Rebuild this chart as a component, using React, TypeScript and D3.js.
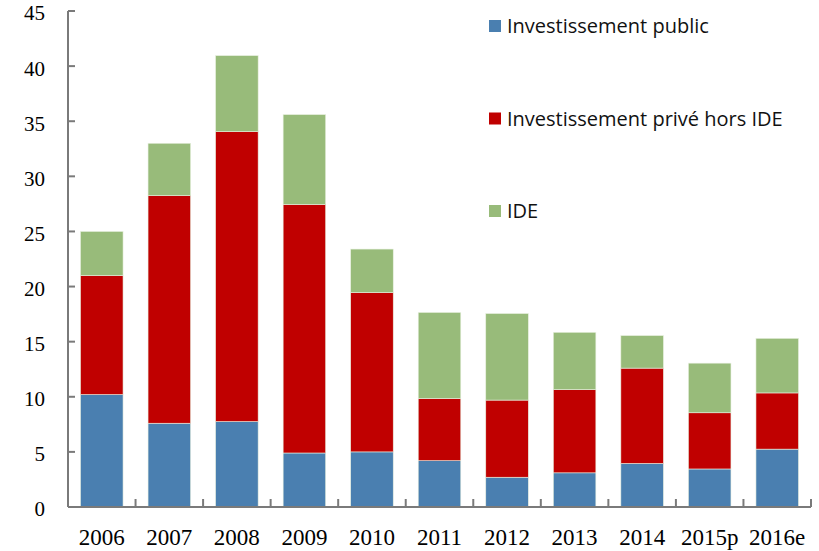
import React, { useEffect, useRef } from 'react';
import * as d3 from 'd3';

const years = ['2006', '2007', '2008', '2009', '2010', '2011', '2012', '2013', '2014', '2015p', '2016e'];
const publicInv = [10.2, 7.6, 7.75, 4.9, 5.0, 4.2, 2.7, 3.1, 3.95, 3.45, 5.25];
const privateInv = [10.8, 20.65, 26.3, 22.55, 14.45, 5.65, 7.0, 7.55, 8.65, 5.1, 5.1];
const ide = [4.0, 4.75, 6.9, 8.15, 3.95, 7.8, 7.85, 5.2, 2.95, 4.5, 4.95];
const seriesNames = ['Investissement public', 'Investissement privé hors IDE', 'IDE'];
const colors = ['#4a7fb0', '#c00000', '#98bb7a'];
const yTicks = [0, 5, 10, 15, 20, 25, 30, 35, 40, 45];

const W = 819;
const H = 551;
const margin = { left: 68, right: 8, top: 11, bottom: 44 };

export default function App() {
  const ref = useRef<SVGSVGElement>(null);

  useEffect(() => {
    if (!ref.current) return;
    const svg = d3.select(ref.current);
    svg.selectAll('*').remove();

    const x = d3
      .scaleBand()
      .domain(years)
      .range([margin.left, W - margin.right])
      .paddingInner(0.37)
      .paddingOuter(0.185);

    const y = d3.scaleLinear().domain([0, 45]).range([H - margin.bottom, margin.top]);

    const rows = years.map((yr, i) => ({
      year: yr,
      public: publicInv[i],
      private: privateInv[i],
      ide: ide[i],
    }));
    const stacked = d3.stack<any>().keys(['public', 'private', 'ide'])(rows);

    // bars
    svg
      .append('g')
      .selectAll('g')
      .data(stacked)
      .enter()
      .append('g')
      .attr('fill', (_, i) => colors[i])
      .selectAll('rect')
      .data((d) => d)
      .enter()
      .append('rect')
      .attr('x', (d) => x(d.data.year)!)
      .attr('y', (d) => y(d[1]))
      .attr('width', x.bandwidth())
      .attr('height', (d) => y(d[0]) - y(d[1]))
      .attr('stroke', '#e8f0e0')
      .attr('stroke-width', 0.6);

    const axisColor = '#7a7a7a';
    const x0 = margin.left;
    const x1 = W - margin.right;
    const y0 = y(0);

    // y axis
    svg.append('line').attr('x1', x0).attr('x2', x0).attr('y1', y(45)).attr('y2', y0)
      .attr('stroke', axisColor).attr('stroke-width', 2);
    svg
      .append('g')
      .selectAll('line')
      .data(yTicks)
      .enter()
      .append('line')
      .attr('x1', x0)
      .attr('x2', x0 + 7)
      .attr('y1', (d) => y(d))
      .attr('y2', (d) => y(d))
      .attr('stroke', axisColor)
      .attr('stroke-width', 2);
    svg
      .append('g')
      .selectAll('text')
      .data(yTicks)
      .enter()
      .append('text')
      .attr('x', 45)
      .attr('y', (d) => y(d))
      .attr('dy', '0.45em')
      .attr('text-anchor', 'end')
      .attr('font-family', '"Liberation Serif", serif')
      .attr('font-size', 21)
      .attr('fill', '#000')
      .text((d) => String(d));

    // x axis
    svg.append('line').attr('x1', x0).attr('x2', x1).attr('y1', y0).attr('y2', y0)
      .attr('stroke', axisColor).attr('stroke-width', 2);
    const step = x.step();
    const boundaries = years.map((yr) => x(yr)! - (step - x.bandwidth()) / 2 + step);
    svg
      .append('g')
      .selectAll('line')
      .data(boundaries)
      .enter()
      .append('line')
      .attr('x1', (d) => d)
      .attr('x2', (d) => d)
      .attr('y1', y0)
      .attr('y2', y0 - 8)
      .attr('stroke', axisColor)
      .attr('stroke-width', 2);
    svg
      .append('g')
      .selectAll('text')
      .data(years)
      .enter()
      .append('text')
      .attr('x', (d) => x(d)! + x.bandwidth() / 2)
      .attr('y', 545)
      .attr('text-anchor', 'middle')
      .attr('font-family', '"Liberation Serif", serif')
      .attr('font-size', 23)
      .attr('fill', '#000')
      .text((d) => d);

    // legend
    const legend = svg
      .append('g')
      .selectAll('g')
      .data(seriesNames)
      .enter()
      .append('g')
      .attr('transform', (_, i) => `translate(489, ${26 + i * 92.5})`);
    legend.append('rect').attr('x', 0).attr('y', -6).attr('width', 12).attr('height', 12)
      .attr('fill', (_, i) => colors[i]);
    legend
      .append('text')
      .attr('x', 18)
      .attr('y', 0)
      .attr('dy', '0.35em')
      .attr('font-family', '"Open Sans", sans-serif')
      .attr('font-size', 20)
      .attr('fill', '#111')
      .text((d) => d);
  }, []);

  return (
    <svg
      ref={ref}
      width={W}
      height={H}
      style={{ position: 'absolute', left: 0, top: 0, background: '#fff' }}
    ></svg>
  );
}
